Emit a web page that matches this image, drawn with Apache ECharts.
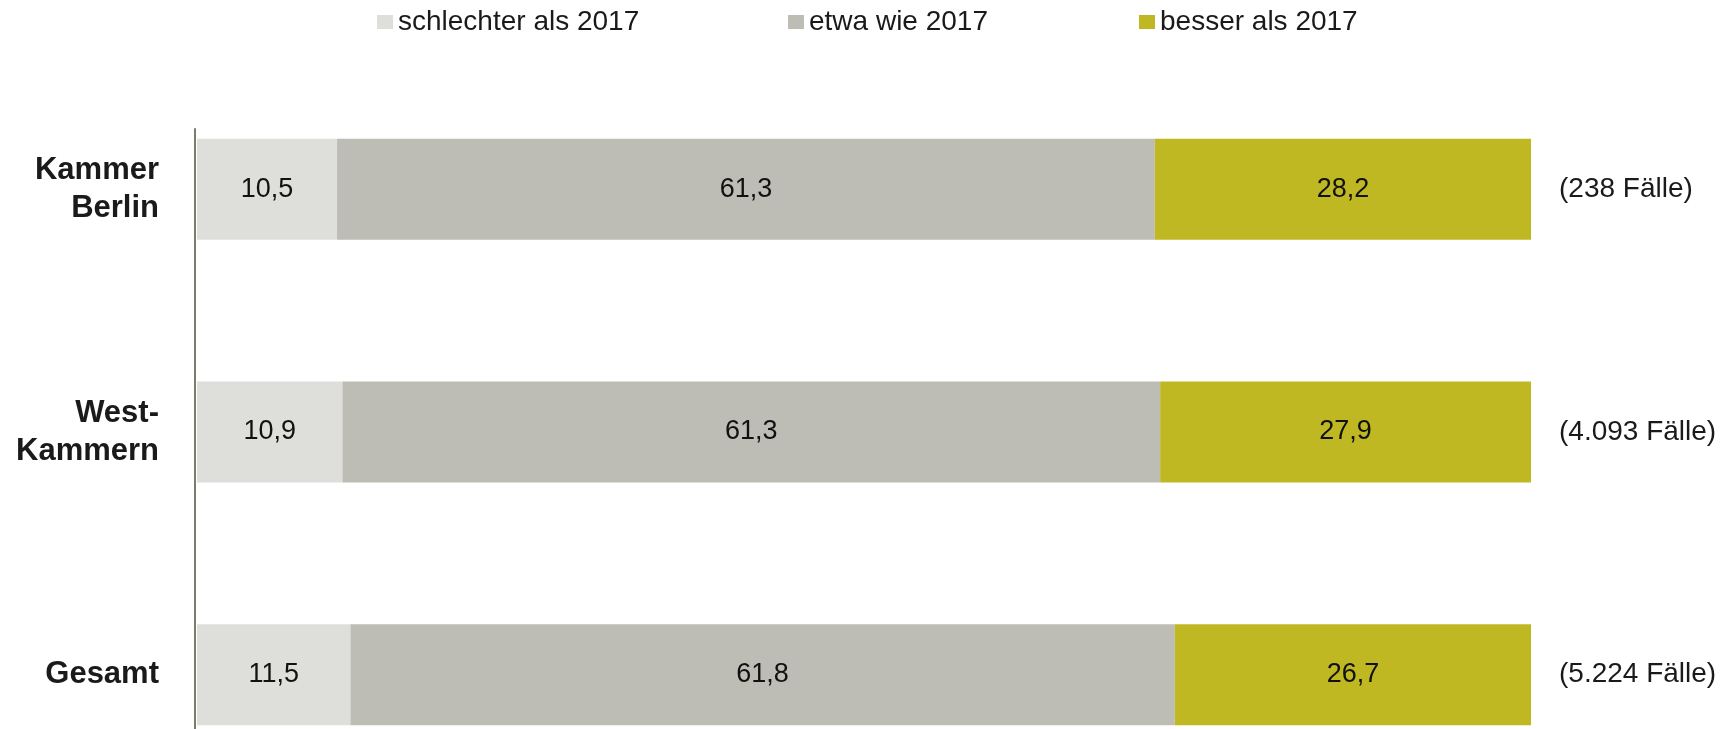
<!DOCTYPE html>
<html lang="de">
<head>
    <meta charset="UTF-8">
    <title>Vergleich zu 2017</title>
    <script src="https://cdn.jsdelivr.net/npm/echarts@6.0.0/dist/echarts.min.js"></script>
    <style>
        body { margin: 0; background: #fff; overflow: hidden; }
        /* taller than the window: the last band runs past the bottom edge, as in the original */
        #main { width: 1731px; height: 796px; }
    </style>
</head>
<body>
    <div id="main"></div>
    <script type="text/javascript">
        // data
        const categories = ['Kammer\nBerlin', 'West-\nKammern', 'Gesamt'];
        const caseLabels = ['(238 Fälle)', '(4.093 Fälle)', '(5.224 Fälle)'];
        const seriesNames = ['schlechter als 2017', 'etwa wie 2017', 'besser als 2017'];
        const schlechter = [10.5, 10.9, 11.5];
        const etwa = [61.3, 61.3, 61.8];
        const besser = [28.2, 27.9, 26.7];

        const colors = ['#dededa', '#bebdb5', '#bfb823'];
        const font = "'Liberation Sans', Arial, sans-serif";

        let myChart = echarts.init(document.getElementById('main'));

        // one legend per item so each sits where it does in the original
        const legendLeft = [372, 783, 1134];
        const legends = seriesNames.map((name, i) => ({
            data: [name],
            left: legendLeft[i],
            top: 3,
            icon: 'rect',
            itemWidth: 16,
            itemHeight: 14,
            selectedMode: false,
            textStyle: { fontFamily: font, fontSize: 28, color: '#1a1a1a' }
        }));

        const makeBar = (name, values, i) => ({
            name: name,
            type: 'bar',
            stack: 'total',
            xAxisIndex: 0,
            yAxisIndex: 0,
            barWidth: 101,
            itemStyle: { color: colors[i] },
            label: {
                show: true,
                position: 'inside',
                fontFamily: font,
                fontSize: 27,
                color: '#111',
                formatter: (p) => p.value.toFixed(1).replace('.', ',')
            },
            data: values
        });

        let options = {
            animation: false,
            legend: legends,
            grid: [
                { left: 197, width: 1334, top: 68, bottom: 0 },
                // second grid only carries the vertical axis line
                { left: 195, width: 10, top: 129, bottom: 0 }
            ],
            xAxis: [
                { gridIndex: 0, type: 'value', min: 0, max: 100, show: false },
                { gridIndex: 1, type: 'value', show: false }
            ],
            yAxis: [
                {
                    gridIndex: 0,
                    type: 'category',
                    data: categories,
                    inverse: true,
                    axisLine: { show: false },
                    axisTick: { show: false },
                    axisLabel: {
                        margin: 38,
                        padding: [6, 0, 0, 0],
                        fontFamily: font,
                        fontSize: 31,
                        fontWeight: 'bold',
                        lineHeight: 38,
                        color: '#1a1a1a'
                    }
                },
                {
                    gridIndex: 0,
                    type: 'category',
                    position: 'right',
                    data: caseLabels,
                    inverse: true,
                    axisLine: { show: false },
                    axisTick: { show: false },
                    axisLabel: {
                        margin: 28,
                        fontFamily: font,
                        fontSize: 28,
                        color: '#1a1a1a'
                    }
                },
                {
                    gridIndex: 1,
                    type: 'value',
                    axisLine: { show: true, lineStyle: { color: '#7c7c6a', width: 2 } },
                    axisTick: { show: false },
                    axisLabel: { show: false },
                    splitLine: { show: false }
                }
            ],
            series: [
                makeBar(seriesNames[0], schlechter, 0),
                makeBar(seriesNames[1], etwa, 1),
                makeBar(seriesNames[2], besser, 2)
            ]
        };

        myChart.setOption(options);
    </script>
</body>
</html>
